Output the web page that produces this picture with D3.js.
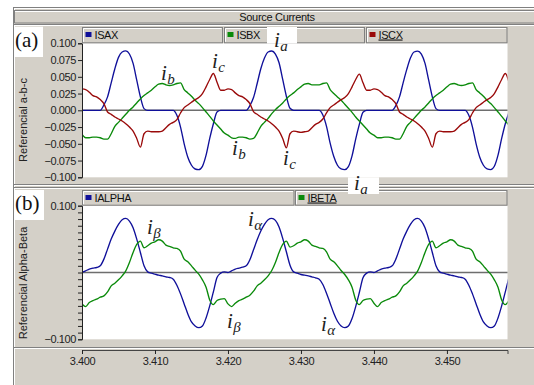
<!DOCTYPE html>
<html><head><meta charset="utf-8">
<script src="https://cdn.jsdelivr.net/npm/d3@7"></script>
<style>
body{margin:0;background:#fff;}
svg{display:block;font-family:"Liberation Sans",Arial,sans-serif;}
</style></head>
<body><svg id="c" width="534" height="385"></svg>
<script>
// ---------- DATA ----------
const title = "Source Currents";
const t0 = 3.400, dt = 0.0005;           // sampling grid of the traces
const xTicks = [3.40, 3.41, 3.42, 3.43, 3.44, 3.45];
const yTicksA = [-0.1, -0.075, -0.05, -0.025, 0, 0.025, 0.05, 0.075, 0.1];
const yTicksB = [-0.1,-0.09,-0.08,-0.07,-0.06,-0.05,-0.04,-0.03,-0.02,-0.01,0,0.01,0.02,0.03,0.04,0.05,0.06,0.07,0.08,0.09,0.1];
const yLabelsB = [-0.1, 0.1];
const seriesA = ["ISAX", "ISBX", "ISCX"];
const seriesB = ["IALPHA", "IBETA"];

const ISAX = [
 0,0,0,0,0,0,0.008,0.020,0.041,0.062,0.079,0.087,0.0886,0.084,0.070,0.045,0.020,0.0025,0,0,0,0,0,0,0,0,-0.0075,-0.025,-0.050,-0.070,-0.082,-0.0876,-0.0886,-0.0836,-0.067,-0.042,-0.020,-0.0025,0,0,
 0,0,0,0,0,0,0.007,0.019,0.040,0.062,0.078,0.087,0.0885,0.084,0.071,0.046,0.021,0.003,0,0,0,0,0,0,0,0,-0.007,-0.024,-0.049,-0.069,-0.082,-0.0875,-0.0885,-0.084,-0.068,-0.043,-0.021,-0.003,0,0,
 0,0,0,0,0,0,0.007,0.020,0.041,0.061,0.078,0.087,0.0884,0.084,0.070,0.045,0.020,0.0025,0,0,0,0,0,0,0,0,-0.0075,-0.025,-0.050,-0.070,-0.082,-0.0875,-0.0885,-0.0835,-0.067,-0.042,-0.020,-0.003];
const ISBX = [
 -0.036,-0.041,-0.041,-0.040,-0.040,-0.041,-0.043,-0.043,-0.035,-0.024,-0.018,-0.012,-0.006,0,0.005,0.011,0.017,0.022,0.026,0.030,0.035,0.039,0.040,0.038,0.037,0.038,0.040,0.041,0.031,0.026,0.021,0.015,0.010,0.004,-0.0025,-0.009,-0.016,-0.022,-0.028,-0.034,
 -0.037,-0.041,-0.042,-0.040,-0.040,-0.041,-0.043,-0.042,-0.034,-0.024,-0.018,-0.012,-0.005,0.001,0.006,0.011,0.017,0.022,0.026,0.031,0.035,0.039,0.040,0.038,0.038,0.038,0.040,0.041,0.031,0.025,0.020,0.015,0.009,0.003,-0.003,-0.010,-0.016,-0.022,-0.028,-0.034,
 -0.037,-0.041,-0.041,-0.040,-0.040,-0.041,-0.043,-0.043,-0.035,-0.024,-0.018,-0.012,-0.006,0,0.005,0.011,0.017,0.022,0.026,0.030,0.035,0.039,0.040,0.038,0.037,0.038,0.040,0.041,0.031,0.026,0.021,0.015,0.010,0.004,-0.0025,-0.009,-0.016,-0.022];
const ISCX = [
 0.032,0.031,0.027,0.022,0.020,0.016,0.010,-0.0025,-0.006,-0.010,-0.013,-0.016,-0.020,-0.025,-0.031,-0.042,-0.055,-0.035,-0.031,-0.032,-0.032,-0.032,-0.031,-0.026,-0.021,-0.018,-0.014,-0.004,0.004,0.008,0.012,0.016,0.019,0.025,0.035,0.046,0.055,0.042,0.030,0.030,
 0.032,0.031,0.026,0.022,0.020,0.016,0.010,-0.002,-0.006,-0.010,-0.013,-0.016,-0.020,-0.025,-0.031,-0.042,-0.056,-0.035,-0.031,-0.032,-0.033,-0.032,-0.031,-0.026,-0.021,-0.018,-0.013,-0.004,0.004,0.008,0.012,0.016,0.019,0.025,0.035,0.046,0.054,0.041,0.030,0.030,
 0.032,0.031,0.027,0.022,0.020,0.016,0.010,-0.0025,-0.006,-0.010,-0.013,-0.016,-0.020,-0.025,-0.031,-0.042,-0.055,-0.035,-0.031,-0.032,-0.032,-0.032,-0.031,-0.026,-0.021,-0.018,-0.014,-0.004,0.004,0.008,0.012,0.016,0.019,0.025,0.035,0.046,0.055,0.042];
const IALPHA = [
 0,0.0025,0.005,0.0065,0.0075,0.010,0.020,0.035,0.050,0.062,0.072,0.079,0.081,0.077,0.067,0.050,0.030,0.010,0.001,-0.001,-0.0025,-0.004,-0.005,-0.0065,-0.0075,-0.010,-0.019,-0.032,-0.047,-0.062,-0.074,-0.080,-0.0826,-0.080,-0.068,-0.050,-0.029,-0.0075,-0.001,0.001,
 0,0.0025,0.005,0.0065,0.008,0.010,0.019,0.034,0.049,0.062,0.072,0.079,0.081,0.078,0.068,0.051,0.031,0.011,0.001,-0.001,-0.003,-0.004,-0.005,-0.0065,-0.008,-0.010,-0.018,-0.031,-0.046,-0.061,-0.073,-0.080,-0.0825,-0.080,-0.069,-0.051,-0.030,-0.008,-0.001,0.001,
 0,0.0025,0.005,0.0065,0.0075,0.010,0.020,0.035,0.050,0.062,0.072,0.079,0.081,0.077,0.067,0.050,0.030,0.010,0.001,-0.001,-0.0025,-0.004,-0.005,-0.0065,-0.0075,-0.010,-0.019,-0.032,-0.047,-0.062,-0.074,-0.080,-0.0826,-0.080,-0.068,-0.050,-0.029,-0.0075];
const IBETA = [
 -0.047,-0.051,-0.045,-0.042,-0.040,-0.037,-0.035,-0.029,-0.020,-0.016,-0.011,-0.005,0.0025,0.015,0.030,0.042,0.047,0.037,0.040,0.044,0.046,0.049,0.047,0.041,0.039,0.037,0.036,0.032,0.020,0.016,0.010,0.0035,-0.0025,-0.011,-0.022,-0.041,-0.048,-0.042,-0.040,-0.039,
 -0.047,-0.051,-0.046,-0.042,-0.040,-0.037,-0.034,-0.028,-0.020,-0.016,-0.011,-0.005,0.003,0.015,0.030,0.042,0.047,0.038,0.040,0.044,0.046,0.049,0.047,0.041,0.039,0.037,0.036,0.031,0.020,0.016,0.010,0.003,-0.003,-0.011,-0.022,-0.041,-0.048,-0.042,-0.040,-0.039,
 -0.046,-0.051,-0.045,-0.042,-0.040,-0.037,-0.035,-0.029,-0.020,-0.016,-0.011,-0.005,0.0025,0.015,0.030,0.042,0.047,0.037,0.040,0.044,0.046,0.049,0.047,0.041,0.039,0.037,0.036,0.032,0.020,0.016,0.010,0.0035,-0.0025,-0.011,-0.022,-0.041,-0.048,-0.042];

// ---------- STYLE / LAYOUT ----------
const GRAY = "#d4d0c8", DARK = "#808080";
const COL = {ISAX:"#10109a", ISBX:"#0a8a0a", ISCX:"#9a0a0a", IALPHA:"#10109a", IBETA:"#0a8a0a"};
const svg = d3.select("#c");
const X0 = 82, X1 = 507.5;
const x = d3.scaleLinear().domain([3.400, 3.4583]).range([X0, X1]);
const yA = d3.scaleLinear().domain([-0.1, 0.1]).range([177.3, 43.3]);
const yB = d3.scaleLinear().domain([-0.1, 0.1]).range([339.3, 205.7]);
const times = ISAX.map((_, i) => t0 + i * dt);

// background frame
svg.append("rect").attr("width",534).attr("height",385).attr("fill","#fff");
svg.append("rect").attr("x",13).attr("y",7).attr("width",521).attr("height",378).attr("fill",GRAY);
function hline(y, x1, x2, c){ svg.append("line").attr("x1",x1).attr("x2",x2).attr("y1",y).attr("y2",y).attr("stroke",c).attr("stroke-width",1); }
function vline(xx, y1, y2, c){ svg.append("line").attr("x1",xx).attr("x2",xx).attr("y1",y1).attr("y2",y2).attr("stroke",c).attr("stroke-width",1); }
hline(7.5, 13, 534, DARK); hline(8.5, 14, 534, "#fff");
vline(13.5, 7, 385, DARK); vline(14.5, 8, 385, "#fff");

// title bar
svg.append("rect").attr("x",14.5).attr("y",10.5).attr("width",520).attr("height",12.5).attr("fill",GRAY).attr("stroke",DARK);
hline(11.5, 15, 534, "#fff");
svg.append("text").attr("x",277).attr("y",20.5).attr("text-anchor","middle").attr("font-size",11).attr("letter-spacing",-0.3).attr("fill","#111").text(title);
hline(24.5, 13, 534, DARK); hline(25.5, 14, 534, "#fff");

// separators
hline(184.5, 13, 534, DARK); hline(185.5, 14, 534, "#fff"); hline(187.5, 13, 534, DARK); hline(188.5, 14, 534, "#fff");
hline(347.5, 13, 534, DARK); hline(348.5, 14, 534, "#fff");

function legendBox(x1, x2, y1, y2, name, underline){
  svg.append("rect").attr("x",x1+0.5).attr("y",y1+0.5).attr("width",x2-x1-1).attr("height",y2-y1-1).attr("fill",GRAY).attr("stroke",DARK);
  svg.append("line").attr("x1",x1+1.5).attr("x2",x2-1.5).attr("y1",y1+1.5).attr("y2",y1+1.5).attr("stroke","#fff");
  svg.append("line").attr("x1",x1+1.5).attr("x2",x1+1.5).attr("y1",y1+1.5).attr("y2",y2-1.5).attr("stroke","#fff");
  svg.append("rect").attr("x",x1+3.5).attr("y",y1+5).attr("width",6).attr("height",5).attr("fill",COL[name]);
  svg.append("text").attr("x",x1+12.5).attr("y",y1+11.5).attr("font-size",11).attr("letter-spacing",-0.4).attr("fill","#111")
    .attr("text-decoration", underline ? "underline" : null).text(name);
}

function panel(id, y, top, bot, names, data, ticks, labels){
  svg.append("rect").attr("x",X0).attr("y",top).attr("width",X1-X0).attr("height",bot-top).attr("fill","#fff");
  svg.append("clipPath").attr("id",id).append("rect").attr("x",X0).attr("y",top).attr("width",X1-X0).attr("height",bot-top);
  svg.append("line").attr("x1",X0).attr("x2",X1).attr("y1",y(0)).attr("y2",y(0)).attr("stroke","#6e6e6e").attr("stroke-width",1.6);
  const line = d3.line().x((d,i)=>x(times[i])).y(d=>y(d)).curve(d3.curveMonotoneX);
  const g = svg.append("g").attr("clip-path",`url(#${id})`);
  names.forEach((n,k)=>{
    g.append("path").datum(data[k]).attr("d",line).attr("fill","none").attr("stroke",COL[n]).attr("stroke-width",1.35);
  });
  const ax = d3.axisLeft(y).tickValues(ticks).tickSize(4).tickPadding(2)
    .tickFormat(d => labels.some(l => Math.abs(l-d)<1e-9) ? d3.format(".3f")(d) : "");
  const ag = svg.append("g").attr("transform",`translate(${X0},0)`).call(ax);
  ag.select(".domain").attr("stroke","#222");
  ag.selectAll(".tick line").attr("stroke","#222");
  ag.selectAll("text").attr("font-size",11).attr("letter-spacing",-0.4).attr("fill","#222").attr("font-family","Liberation Sans, Arial, sans-serif");
}

panel("clipA", yA, 43.3, 177.3, seriesA, [ISAX, ISBX, ISCX], yTicksA, yTicksA);
legendBox(82, 223, 27, 43.3, "ISAX", false);
legendBox(224, 365, 27, 43.3, "ISBX", false);
legendBox(366, 507.5, 27, 43.3, "ISCX", true);

panel("clipB", yB, 205.7, 339.3, seriesB, [IALPHA, IBETA], yTicksB, yLabelsB);
legendBox(82, 294.5, 190, 205.7, "IALPHA", false);
legendBox(295, 507.5, 190, 205.7, "IBETA", true);

// axis titles
svg.append("text").attr("transform","translate(26.5,120) rotate(-90)").attr("text-anchor","middle").attr("font-size",11).attr("fill","#222").text("Referencial a-b-c");
svg.append("text").attr("transform","translate(26.5,283) rotate(-90)").attr("text-anchor","middle").attr("font-size",11).attr("fill","#222").text("Referencial Alpha-Beta");

// x axis
const xa = svg.append("g").attr("transform","translate(0,350)")
  .call(d3.axisBottom(x).tickValues(xTicks).tickSize(4).tickPadding(3).tickFormat(d3.format(".3f")));
xa.select(".domain").attr("stroke","#444");
xa.selectAll(".tick line").attr("stroke","#222");
xa.selectAll("text").attr("font-size",11).attr("letter-spacing",-0.4).attr("fill","#222").attr("font-family","Liberation Sans, Arial, sans-serif");

// white label boxes
function wbox(x1,y1,x2,y2){ svg.append("rect").attr("x",x1).attr("y",y1).attr("width",x2-x1).attr("height",y2-y1).attr("fill","#fff"); }
wbox(14, 26.7, 43, 57); wbox(14, 190, 44, 220);
wbox(267, 27, 297, 43.5); wbox(348, 177.3, 379, 194);
function ptext(x0, y0, s){ svg.append("text").attr("x",x0).attr("y",y0).attr("font-family","Liberation Serif, Times New Roman, serif").attr("font-size",21).attr("fill","#111").text(s); }
ptext(15, 47, "(a)"); ptext(15, 210, "(b)");

function lab(x0, y0, sub){
  const t = svg.append("text").attr("x",x0).attr("y",y0).attr("font-family","Liberation Serif, Times New Roman, serif").attr("font-style","italic").attr("fill","#222");
  t.append("tspan").attr("font-size",21).text("i");
  t.append("tspan").attr("font-size",15).attr("dy",3.5).attr("dx",0.3).text(sub);
}
lab(274, 47, "a"); lab(161, 80, "b"); lab(212, 68, "c");
lab(232, 155, "b"); lab(283, 165, "c"); lab(354, 190, "a");
lab(147, 234, "β"); lab(248, 226, "α"); lab(227, 328, "β"); lab(321, 331, "α");
</script></body></html>
